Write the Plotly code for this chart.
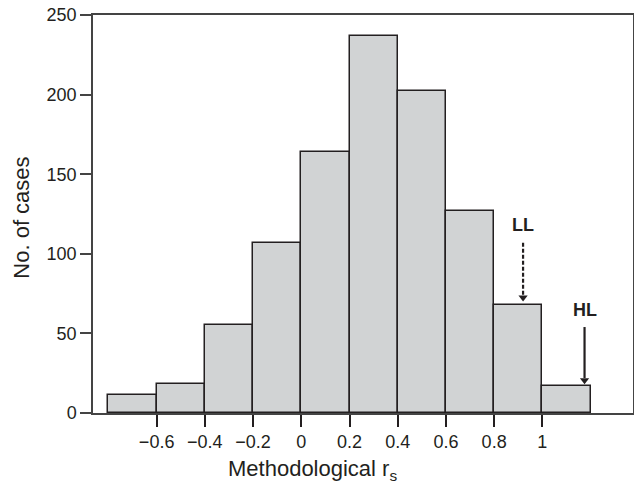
import plotly.graph_objects as go

bin_centers = [-0.7, -0.5, -0.3, -0.1, 0.1, 0.3, 0.5, 0.7, 0.9, 1.1]
counts = [11, 18, 55, 107, 164, 237, 202, 127, 68, 17]
tick_vals = [-0.6, -0.4, -0.2, 0, 0.2, 0.4, 0.6, 0.8, 1]
tick_text = ["\u22120.6", "\u22120.4", "\u22120.2", "0", "0.2", "0.4", "0.6", "0.8", "1"]
y_ticks = [0, 50, 100, 150, 200, 250]

# markers: label, x, shaft top, tip, label y, dashed
markers = [
    ("LL", 0.92, 107, 70, 118, True),
    ("HL", 1.175, 54, 18, 65, False),
]

fig = go.Figure()
fig.add_trace(go.Bar(
    x=bin_centers, y=counts, width=0.2,
    marker=dict(color="#d1d3d4", line=dict(color="#231f20", width=1.5)),
    showlegend=False,
))

for name, mx, top, tip, ly, dashed in markers:
    fig.add_shape(type="line", x0=mx, x1=mx, y0=top, y1=tip + 4,
                  line=dict(color="#231f20", width=2.2, dash="4px,2px" if dashed else "solid"))
    fig.add_trace(go.Scatter(x=[mx], y=[tip + 2.6], mode="markers",
                             marker=dict(symbol="triangle-down", size=8, color="#231f20",
                                         line=dict(width=0)),
                             showlegend=False, hoverinfo="skip"))
    fig.add_annotation(x=mx, y=ly, text="<b>%s</b>" % name, showarrow=False,
                       font=dict(size=18, color="#231f20", family="Liberation Sans, Arial"))

fig.add_annotation(xref="paper", yref="paper", x=0.407, y=-0.142,
                   xanchor="center", yanchor="middle", showarrow=False,
                   text="Methodological r<sub>s</sub>", font=dict(size=22))
fig.add_annotation(xref="paper", yref="paper", x=-0.132, y=0.49,
                   xanchor="center", yanchor="middle", showarrow=False, textangle=-90,
                   text="No. of cases", font=dict(size=22))

fig.update_layout(
    width=634, height=480,
    margin=dict(l=85, r=9, t=7, b=75, autoexpand=False),
    paper_bgcolor="white", plot_bgcolor="white",
    font=dict(family="Liberation Sans, Arial", size=18, color="#231f20"),
    bargap=0,
)
fig.update_xaxes(
    range=[-0.864, 1.376], tickvals=tick_vals, ticktext=tick_text,
    ticks="outside", ticklen=12, tickwidth=1.5, tickcolor="#231f20",
    showline=True, linecolor="#444", linewidth=1.5, mirror=True,
    showgrid=False, zeroline=False, ticklabeloverflow="allow", automargin=False,
)
fig.update_yaxes(
    range=[0, 250], tickvals=y_ticks,
    ticks="outside", ticklen=11, tickwidth=1.5, tickcolor="#444",
    showline=True, linecolor="#444", linewidth=1.5, mirror=True,
    showgrid=False, zeroline=False, ticklabeloverflow="allow", automargin=False,
)

fig.write_html("out.html")
